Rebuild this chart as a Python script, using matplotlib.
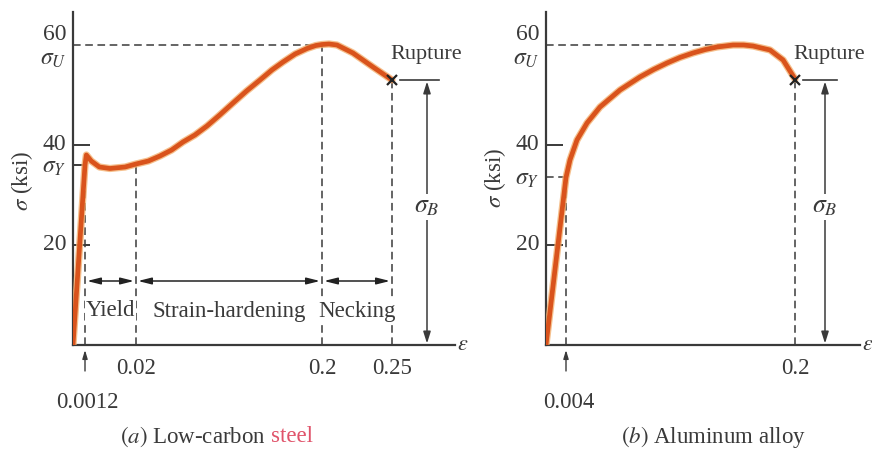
import numpy as np
import matplotlib
matplotlib.use("Agg")
import matplotlib.pyplot as plt
import matplotlib.patheffects as pe

plt.rcParams["font.family"] = "serif"
plt.rcParams["font.serif"] = ["Liberation Serif", "DejaVu Serif"]
plt.rcParams["mathtext.fontset"] = "stix"

# low-carbon steel: strain, stress (ksi)
steel_strain = [0, 0.0012, 0.0017, 0.0035, 0.0065, 0.0104, 0.016, 0.02, 0.032, 0.0432,
                0.0545, 0.0655, 0.0770, 0.0887, 0.1010, 0.1139, 0.127, 0.140, 0.1515,
                0.1623, 0.174, 0.1855, 0.194, 0.2, 0.205, 0.2107, 0.2221, 0.2364, 0.25]
steel_stress = [0, 36, 38, 36.8, 35.6, 35.3, 35.6, 36.2, 36.8, 37.8,
                39.0, 40.6, 42.0, 43.8, 46.0, 48.4, 50.8, 53.0, 55.0,
                56.6, 58.2, 59.3, 59.9, 60.1, 60.2, 60.0, 58.4, 55.6, 53.0]
steel_marks = [0.0012, 0.02, 0.2, 0.25]          # strain marks on the axis
steel_labels = ["0.0012", "0.02", "0.2", "0.25"]
steel_sy, steel_su, steel_sb = 36, 60, 53         # yield, ultimate, rupture stress
steel_regions = ["Yield", "Strain-hardening", "Necking"]

# aluminum alloy: strain, stress (ksi)
alu_strain = [0, 0.004, 0.0074, 0.0134, 0.022, 0.0331, 0.0502, 0.0673, 0.0790, 0.0905,
              0.1015, 0.1127, 0.1233, 0.1333, 0.147, 0.156, 0.164, 0.1786, 0.1898, 0.2]
alu_stress = [0, 33.5, 37, 41, 44.4, 47.6, 51, 53.6, 55.1, 56.4,
              57.5, 58.4, 59.1, 59.6, 60.0, 60.0, 59.8, 59.0, 57.0, 53.2]
alu_marks = [0.004, 0.2]
alu_labels = ["0.004", "0.2"]
alu_sy, alu_su, alu_sb = 33.5, 60, 53
alu_peak = 0.147

# piecewise strain axis (not to scale), knots in figure pixels
steel_knots_s = [-0.001, 0, 0.0012, 0.02, 0.2, 0.25, 0.35]
steel_knots_px = [63, 73, 85, 136, 322, 392, 532]
alu_knots_s = [-0.001, 0, 0.004, 0.2, 0.35]
alu_knots_px = [541, 546, 566, 795, 970]

INK = "#3a3a3a"
CURVE = "#d9531c"
FS = 16.5


def make_scale(ks, kp):
    fwd = lambda x: np.interp(x, ks, kp)
    inv = lambda p: np.interp(p, kp, ks)
    return fwd, inv


def mid(fwd, inv, a, b):
    return float(inv((fwd(a) + fwd(b)) / 2))


def dashed(ax, xs, ys):
    ax.plot(xs, ys, color=INK, lw=1.1, ls=(0, (5, 3)), clip_on=False, zorder=2)


def setup(ax, fwd, inv, xmax):
    ax.set_xscale("function", functions=(fwd, inv))
    ax.set_xlim(0, xmax)
    ax.set_ylim(0, 66.6)
    for s in ["top", "right"]:
        ax.spines[s].set_visible(False)
    for s in ["left", "bottom"]:
        ax.spines[s].set_color(INK)
        ax.spines[s].set_linewidth(1.6)
    ax.set_xticks([])
    ax.set_yticks([20, 40])
    ax.tick_params(axis="y", direction="in", length=12, width=1.4, color=INK,
                   labelleft=False)
    ax.patch.set_alpha(0)
    ax.annotate("$\\epsilon$", xy=(1, 0), xycoords="axes fraction", xytext=(1.5, 0),
                textcoords="offset points", ha="left", va="center", fontsize=16, color=INK)


def ylabels(ax, sy_val, sy_name="$\\sigma_Y$"):
    pos = [(62, "60"), (57, "$\\sigma_U$"), (40, "40"), (sy_val - 0.5, sy_name), (20, "20")]
    for y, t in pos:
        ax.annotate(t, xy=(0, y), xycoords=("axes fraction", "data"), xytext=(-5, 0),
                    textcoords="offset points", ha="right", va="center",
                    fontsize=FS + 0.5, color=INK)


def curve(ax, xs, ys):
    ax.plot(xs, ys, color=CURVE, lw=3.4, solid_capstyle="round", zorder=3,
            path_effects=[pe.Stroke(linewidth=5.2, foreground="#f3b070", alpha=0.8),
                          pe.Normal()])


def rupture(ax, fwd, inv, x, y, arrow_x):
    ax.plot([x], [y], marker="x", color="#222222", ms=7, mew=1.6, zorder=4, clip_on=False)
    x0 = float(inv(fwd(x) + 8))
    x1 = float(inv(fwd(arrow_x) + 12))
    ax.plot([x0, x1], [y, y], color=INK, lw=1.2, clip_on=False)
    ax.annotate("", xy=(arrow_x, 0.3), xytext=(arrow_x, y - 0.3),
                arrowprops=dict(arrowstyle="<|-|>,head_width=0.22,head_length=0.7",
                                color=INK, lw=1.1, shrinkA=0, shrinkB=0),
                annotation_clip=False)
    ax.text(arrow_x, 27.6, "$\\sigma_B$", ha="center", va="center", fontsize=FS + 2,
            color=INK, bbox=dict(fc="white", ec="none", pad=1.5))
    ax.text(float(inv(fwd(x) + 34)), 58, "Rupture", ha="center", va="center",
            fontsize=FS - 0.5, color=INK)


def xmarks(ax, marks, labels, low):
    for m, lab in zip(marks, labels):
        if m == low:
            ax.annotate("", xy=(m, -1.0), xytext=(m, -5.2),
                        arrowprops=dict(arrowstyle="-|>,head_width=0.15,head_length=0.5",
                                        color=INK, lw=1.0, shrinkA=0, shrinkB=0),
                        annotation_clip=False)
            ax.annotate(lab, xy=(m, -11.4), xytext=(2, 0), textcoords="offset points",
                        ha="center", va="center", fontsize=FS, color=INK,
                        annotation_clip=False)
        else:
            ax.text(m, -4.6, lab, ha="center", va="center", fontsize=FS, color=INK)


fig = plt.figure(figsize=(8.72, 4.53), dpi=100)
W, H = 872, 453
ax1 = fig.add_axes([73 / W, 108 / H, (455 - 73) / W, 333 / H])
ax2 = fig.add_axes([546 / W, 108 / H, (860 - 546) / W, 333 / H])

# (a) low-carbon steel
f1, i1 = make_scale(steel_knots_s, steel_knots_px)
setup(ax1, f1, i1, 0.295)
e_y, e_h, e_u, e_r = steel_marks
dashed(ax1, [0, e_u], [steel_su, steel_su])
dashed(ax1, [e_y, e_y], [0, steel_sy])
dashed(ax1, [e_h, e_h], [0, steel_sy])
dashed(ax1, [e_u, e_u], [0, steel_su])
dashed(ax1, [e_r, e_r], [0, steel_sb])
ax1.plot([0, e_y], [steel_sy, steel_sy], color=INK, lw=1.4)
curve(ax1, steel_strain, steel_stress)
bounds = [e_y, e_h, e_u, e_r]
for a, b, name in zip(bounds[:-1], bounds[1:], steel_regions):
    ax1.annotate("", xy=(float(i1(f1(b) - 2)), 12.8), xytext=(float(i1(f1(a) + 2)), 12.8),
                 arrowprops=dict(arrowstyle="<|-|>,head_width=0.2,head_length=0.8",
                                 color="#222222", lw=1.1, shrinkA=0, shrinkB=0))
    ax1.text(mid(f1, i1, a, b), 6.8, name, ha="center", va="center", fontsize=FS, color=INK,
             bbox=dict(fc="white", ec="none", pad=0.5))
rupture(ax1, f1, i1, e_r, steel_sb, 0.275)
xmarks(ax1, steel_marks, steel_labels, e_y)
ylabels(ax1, steel_sy)
fig.text(22 / W, 1 - 181 / H, "$\\sigma$ (ksi)", rotation=90, ha="center", va="center",
         fontsize=FS, color=INK)

# (b) aluminum alloy
f2, i2 = make_scale(alu_knots_s, alu_knots_px)
setup(ax2, f2, i2, 0.2557)
a_y, a_r = alu_marks
dashed(ax2, [0, alu_peak], [alu_su, alu_su])
dashed(ax2, [0, a_y], [alu_sy, alu_sy])
dashed(ax2, [a_y, a_y], [0, alu_sy])
dashed(ax2, [a_r, a_r], [0, alu_sb])
curve(ax2, alu_strain, alu_stress)
rupture(ax2, f2, i2, a_r, alu_sb, 0.2257)
xmarks(ax2, alu_marks, alu_labels, a_y)
ylabels(ax2, alu_sy)
fig.text(495 / W, 1 - 178 / H, "$\\sigma$ (ksi)", rotation=90, ha="center", va="center",
         fontsize=FS, color=INK)

# captions
split = 266 / W
fig.text(split, 1 - 437 / H, "$(a)$ Low-carbon", ha="right", va="center",
         fontsize=FS, color=INK)
fig.text(split + 5 / W, 1 - 437 / H, "steel", ha="left", va="center", fontsize=FS,
         color="#e0536a")
fig.text(713 / W, 1 - 437 / H, "$(b)$ Aluminum alloy", ha="center", va="center",
         fontsize=FS, color=INK)

fig.savefig("out.png", dpi=100)
